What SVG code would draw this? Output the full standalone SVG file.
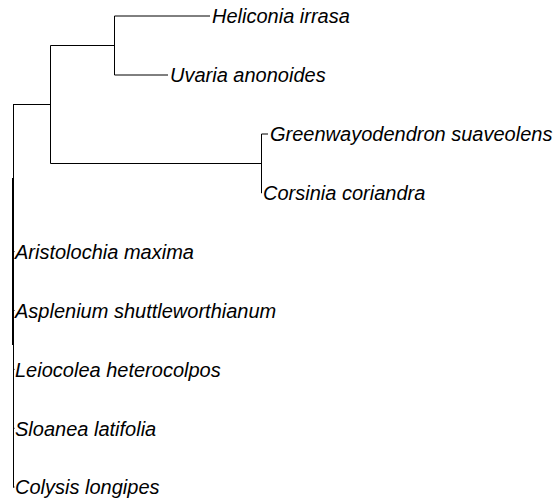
<svg xmlns="http://www.w3.org/2000/svg" width="560" height="499" viewBox="0 0 560 499">
<style>
.e{stroke:#000;stroke-width:1;fill:none}
.t{font-family:"Liberation Sans",Arial,sans-serif;font-style:italic;font-size:20px;fill:#000}
</style>
<rect width="560" height="499" fill="#fff"/>
<g id="edges">
<path class="e" d="M13.5,104.5V487.5M12.5,178V345M13,104.5H50.5M50.5,45.5V163.5M50.5,45.5H114.5M114.5,16V75M114.5,16H210M114.5,75H168M50.5,163.5H261.5M261.5,134V193M261.5,134H268M261.5,193H262M13,251.6H14.5M13,310.5H14.5M13,369.4H14.5M13,428.3H14.5M13,487H14.5"/>
</g>
<g id="n1"><text class="t" x="212" y="23">Heliconia irrasa</text></g>
<g id="n2"><text class="t" x="170" y="82">Uvaria anonoides</text></g>
<g id="n3"><text class="t" x="270" y="141">Greenwayodendron suaveolens</text></g>
<g id="n4"><text class="t" x="263" y="200">Corsinia coriandra</text></g>
<g id="n5"><text class="t" x="15" y="259">Aristolochia maxima</text></g>
<g id="n6"><text class="t" x="15" y="318">Asplenium shuttleworthianum</text></g>
<g id="n7"><text class="t" x="15" y="377">Leiocolea heterocolpos</text></g>
<g id="n8"><text class="t" x="15" y="436">Sloanea latifolia</text></g>
<g id="n9"><text class="t" x="15" y="494">Colysis longipes</text></g>
</svg>
